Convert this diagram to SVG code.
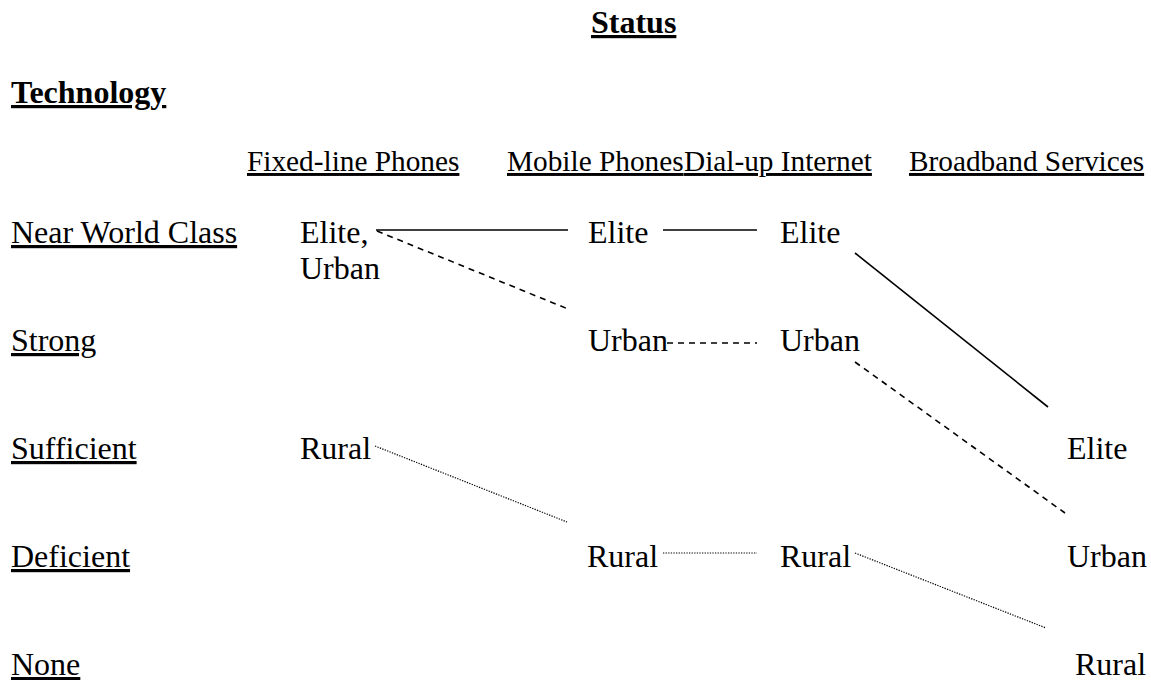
<svg xmlns="http://www.w3.org/2000/svg" width="1151" height="680" viewBox="0 0 1151 680">
<style>
text{font-family:"Liberation Serif","Times New Roman",serif;font-size:32px;fill:#000}
.b{font-weight:bold;text-decoration:underline}
.u{text-decoration:underline}
.h{font-size:29.3px;text-decoration:underline}
.solid{stroke:#000;stroke-width:1.6;fill:none}
.dash{stroke:#000;stroke-width:1.6;stroke-dasharray:6 5;fill:none}
.dot{stroke:#000;stroke-width:1.2;stroke-dasharray:1.3 1.3;fill:none}
</style>
<rect width="1151" height="680" fill="#fff"/>
<g id="titles">
<text id="status" class="b" x="591" y="33">Status</text>
<text id="technology" class="b" x="11" y="103">Technology</text>
</g>
<g id="headers">
<text id="h-fixed" class="h" x="247" y="171">Fixed-line Phones</text>
<text id="h-mobile" class="h" x="507" y="171">Mobile Phones</text>
<text id="h-dialup" class="h" x="684" y="171">Dial-up Internet</text>
<text id="h-broadband" class="h" x="909" y="171">Broadband Services</text>
</g>
<g id="rows">
<text id="r-nwc" class="u" x="11" y="243">Near World Class</text>
<text id="r-strong" class="u" x="11" y="351">Strong</text>
<text id="r-sufficient" class="u" x="11" y="459">Sufficient</text>
<text id="r-deficient" class="u" x="11" y="567">Deficient</text>
<text id="r-none" class="u" x="11" y="675">None</text>
</g>
<g id="fixed-elite-urban"><text x="300" y="243">Elite,</text><text x="300" y="279">Urban</text></g>
<g id="fixed-rural"><text x="300" y="459">Rural</text></g>
<g id="mobile-elite"><text x="588" y="243">Elite</text></g>
<g id="mobile-urban"><text x="588" y="351">Urban</text></g>
<g id="mobile-rural"><text x="587" y="567">Rural</text></g>
<g id="dialup-elite"><text x="780" y="243">Elite</text></g>
<g id="dialup-urban"><text x="780" y="351">Urban</text></g>
<g id="dialup-rural"><text x="780" y="567">Rural</text></g>
<g id="broadband-elite"><text x="1067" y="459">Elite</text></g>
<g id="broadband-urban"><text x="1067" y="567">Urban</text></g>
<g id="broadband-rural"><text x="1075" y="675">Rural</text></g>
<g id="connectors">
<line class="solid" x1="376" y1="230" x2="568" y2="230"/>
<line class="dash" x1="377" y1="231" x2="568" y2="309"/>
<line class="solid" x1="663" y1="230" x2="757" y2="230"/>
<line class="dash" x1="667" y1="343" x2="757" y2="343"/>
<line class="solid" x1="855" y1="253" x2="1048" y2="407"/>
<line class="dash" x1="855" y1="362" x2="1065" y2="513"/>
<line class="dot" x1="375" y1="446" x2="567" y2="522"/>
<line class="dot" x1="663" y1="553" x2="757" y2="553"/>
<line class="dot" x1="855" y1="553" x2="1046" y2="628"/>
</g>
</svg>
